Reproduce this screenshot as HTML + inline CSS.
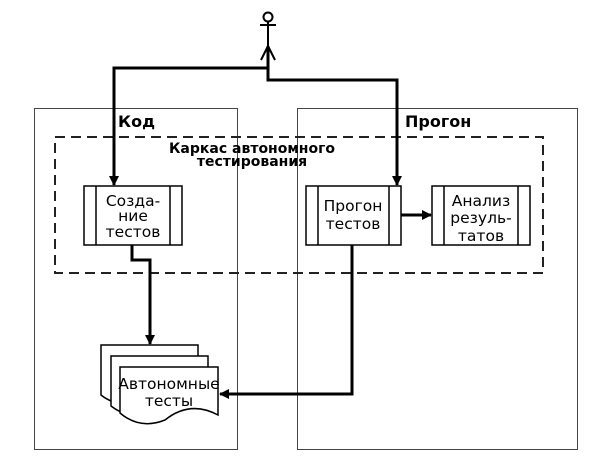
<!DOCTYPE html>
<html><head><meta charset="utf-8"><style>body{margin:0;background:#fff}</style></head><body>
<svg width="610" height="462" viewBox="0 0 610 462" xmlns="http://www.w3.org/2000/svg" font-family="'DejaVu Sans','Liberation Sans',sans-serif">
<defs><marker id="a" markerWidth="10" markerHeight="10" refX="9" refY="5" orient="auto" markerUnits="userSpaceOnUse"><path d="M0,0L10,5L0,10z" fill="#000"/></marker></defs>
<rect x="34.5" y="108.5" width="203" height="341" fill="none" stroke="#444" stroke-width="1"/>
<rect x="297.5" y="108.5" width="280" height="341" fill="none" stroke="#444" stroke-width="1"/>
<rect x="55" y="137" width="488" height="136" fill="none" stroke="#222" stroke-width="2" stroke-dasharray="10,6"/>
<text x="118" y="127" font-size="16" font-weight="bold">Код</text>
<text x="405" y="127" font-size="16" font-weight="bold">Прогон</text>
<text x="252" y="153" font-size="14" font-weight="bold" text-anchor="middle">Каркас автономного</text>
<text x="252" y="166" font-size="14" font-weight="bold" text-anchor="middle">тестирования</text>
<circle cx="268" cy="17" r="4.5" fill="none" stroke="#000" stroke-width="2"/>
<path d="M268 21.5V46M260 25H276M268 46L261 60M268 46L275 60" stroke="#000" stroke-width="2" fill="none"/>
<path d="M268 46V80H397V185" stroke="#000" stroke-width="3" fill="none" marker-end="url(#a)"/>
<path d="M268 68H114V185" stroke="#000" stroke-width="3" fill="none" marker-end="url(#a)"/>
<g fill="#fff" stroke="#000" stroke-width="1.5">
<rect x="84" y="186" width="98" height="59"/><path d="M96 186V245M170 186V245"/>
<rect x="306" y="186" width="95" height="59"/><path d="M318 186V245M389 186V245"/>
<rect x="432" y="186" width="98" height="59"/><path d="M444 186V245M518 186V245"/>
</g>
<g font-size="15.5" text-anchor="middle">
<text x="133" y="206">Созда-</text><text x="133" y="221">ние</text><text x="133" y="237">тестов</text>
<text x="353" y="211">Прогон</text><text x="353" y="229">тестов</text>
<text x="481" y="206">Анализ</text><text x="481" y="223">резуль-</text><text x="481" y="241">татов</text>
</g>
<path d="M401 215H431" stroke="#000" stroke-width="3" marker-end="url(#a)"/>
<path d="M132 245V260H150V344" stroke="#000" stroke-width="3" fill="none" marker-end="url(#a)"/>
<path d="M352 245V394H220" stroke="#000" stroke-width="3" fill="none" marker-end="url(#a)"/>
<g fill="#fff" stroke="#000" stroke-width="1.5">
<path d="M101 345H198V395Q170 380 145 400Q120 410 101 395Z"/>
<path d="M111 356H208V406Q180 391 155 411Q130 421 111 406Z"/>
<path d="M120 367H218V415Q190 400 165 420Q140 430 120 413Z"/>
</g>
<text x="169" y="389" font-size="15.5" text-anchor="middle">Автономные</text>
<text x="169" y="406" font-size="15.5" text-anchor="middle">тесты</text>
</svg>
</body></html>
